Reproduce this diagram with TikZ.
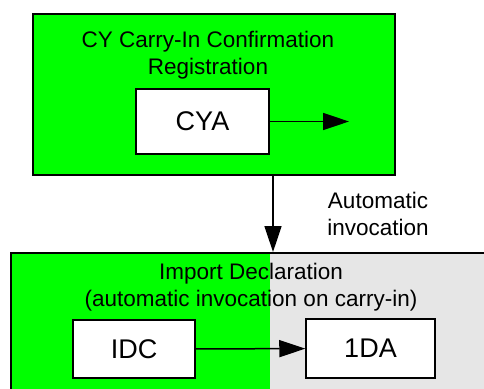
\documentclass[tikz,border=0pt]{standalone}
\usepackage{fontspec}
\setmainfont{Liberation Sans}
\usetikzlibrary{arrows.meta,positioning}
\definecolor{cygreen}{RGB}{0,255,0}
\definecolor{idagrey}{RGB}{230,230,230}
\tikzset{
    group/.style={draw=black, line width=1.5pt, fill=cygreen, anchor=north west, inner sep=0pt},
    func/.style={draw=black, line width=1.5pt, fill=white, inner sep=0pt, font=\fontsize{27}{32}\selectfont},
    title/.style={align=center, inner sep=0pt, font=\fontsize{22.5}{27}\selectfont},
    flow/.style={line width=1.5pt, -{Triangle[length=26pt,width=17pt]}}
}
\begin{document}
\begin{tikzpicture}[x=1pt,y=-1pt]
    \useasboundingbox (0,0) rectangle (484,388);
    \clip (0,0) rectangle (484,388);

    % upper group
    \node[group, minimum width=362pt, minimum height=161pt] (cyreg) at (32,13) {};
    \node[title] (cytitle) at (208,55) {CY Carry-In Confirmation\\Registration};
    \node[func, minimum width=133pt, minimum height=65pt] (cya) at (202.5,121.5) {CYA};
    \coordinate (cyaout) at (349,121.5);
    \draw[flow] (cya) -- (cyaout);

    % lower group, green on the left and grey on the right
    \node[group, fill=idagrey, minimum width=500pt, minimum height=200pt,
        path picture={\fill[cygreen] (path picture bounding box.north west)
            rectangle ([xshift=259pt]path picture bounding box.south west);}] (impdecl) at (10,252) {};
    \node[title] (imptitle) at (251,287) {Import Declaration\\(automatic invocation on carry-in)};
    \node[func, minimum width=122pt, minimum height=58pt] (idc) at (134,349) {IDC};
    \node[func, minimum width=129pt, minimum height=59pt] (ida) at (370.5,348.5) {1DA};
    \draw[flow] (idc) -- (ida);

    % invocation
    \coordinate (invfrom) at (273,174);
    \coordinate (invto) at (273,252);
    \draw[flow] (invfrom) -- (invto);
    \node[title] (invlabel) at (378,214) {Automatic\\invocation};
\end{tikzpicture}
\end{document}
